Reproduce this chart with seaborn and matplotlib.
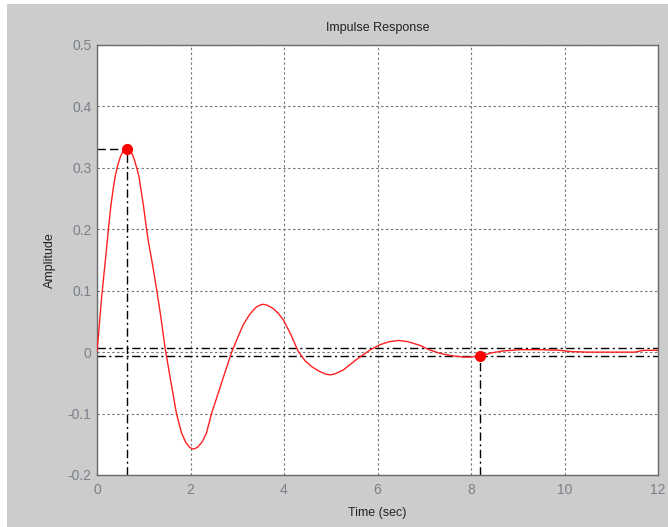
import matplotlib
matplotlib.use("Agg")
import matplotlib.pyplot as plt
from matplotlib.patches import Rectangle
import pandas as pd
import seaborn as sns

# Impulse response samples (time in seconds, amplitude)
time_s = [0.0, 0.05, 0.1, 0.15, 0.2, 0.25, 0.3, 0.35, 0.4, 0.45, 0.5, 0.55,
          0.6, 0.65, 0.7, 0.75, 0.8, 0.85, 0.9, 0.95, 1.0, 1.06, 1.1, 1.2,
          1.28, 1.37, 1.45, 1.55, 1.63, 1.7, 1.81, 1.9, 1.98, 2.06, 2.15,
          2.25, 2.34, 2.45, 2.6, 2.75, 2.88, 3.0, 3.13, 3.27, 3.4, 3.5, 3.56,
          3.65, 3.77, 3.88, 3.99, 4.15, 4.3, 4.45, 4.6, 4.75, 4.9, 5.0, 5.1,
          5.27, 5.4, 5.55, 5.7, 5.85, 6.05, 6.25, 6.45, 6.65, 6.91, 7.1,
          7.34, 7.6, 7.84, 8.0, 8.2, 8.45, 8.69, 9.05, 9.5, 9.9, 10.12, 10.5,
          11.5, 11.7, 12.0]
amplitude = [0.0, 0.045, 0.09, 0.128, 0.165, 0.205, 0.24, 0.268, 0.29, 0.306,
             0.318, 0.326, 0.330, 0.331, 0.329, 0.323, 0.313, 0.300, 0.285,
             0.260, 0.235, 0.200, 0.180, 0.137, 0.100, 0.055, 0.010, -0.035,
             -0.070, -0.100, -0.132, -0.147, -0.155, -0.158, -0.155, -0.146,
             -0.132, -0.100, -0.065, -0.030, 0.0, 0.022, 0.045, 0.062, 0.073,
             0.077, 0.078, 0.076, 0.071, 0.063, 0.052, 0.028, 0.002, -0.014,
             -0.024, -0.031, -0.036, -0.037, -0.035, -0.029, -0.021, -0.012,
             -0.004, 0.004, 0.012, 0.017, 0.019, 0.017, 0.011, 0.004, -0.002,
             -0.006, -0.008, -0.008, -0.006, -0.001, 0.002, 0.004, 0.004,
             0.003, 0.001, 0.0, 0.0, 0.003, 0.003]

# Characteristic points
peak_time, peak_amp = 0.65, 0.331
settle_time, settle_amp = 8.2, -0.006
settle_band = 0.0066

x_ticks = [0, 2, 4, 6, 8, 10, 12]
y_ticks = [-0.2, -0.1, 0, 0.1, 0.2, 0.3, 0.4, 0.5]
y_tick_labels = ["-0.2", "-0.1", "0", "0.1", "0.2", "0.3", "0.4", "0.5"]

sns.set_theme(style="white")
plt.rcParams["font.family"] = ["Liberation Sans", "DejaVu Sans"]

fig = plt.figure(figsize=(6.68, 5.27), dpi=100, facecolor="white")
fig.patches.append(Rectangle((7 / 668, 0), 1, 1 - 4 / 527,
                             transform=fig.transFigure,
                             facecolor="#cccccc", edgecolor="none", zorder=-5))
ax = fig.add_axes([97 / 668, 52 / 527, 561 / 668, 430 / 527])
ax.set_facecolor("white")

df = pd.DataFrame({"Time (sec)": time_s, "Amplitude": amplitude})

xmin, xmax = 0, 12
ymin, ymax = -0.2, 0.5

# settling band
dashdot = (0, (6, 2.5, 1.5, 2.5))
for b in (settle_band, -settle_band):
    ax.axhline(b, color="black", lw=1.0, linestyle=dashdot, zorder=2)

# peak guides
ax.plot([xmin, peak_time], [peak_amp, peak_amp], color="black", lw=1.0,
        linestyle=(0, (6, 3)), zorder=2)
ax.plot([peak_time, peak_time], [ymin, peak_amp], color="black", lw=1.0,
        linestyle=dashdot, zorder=2)
# settling guide
ax.plot([settle_time, settle_time], [ymin, settle_amp], color="black", lw=1.0,
        linestyle=dashdot, zorder=2)

sns.lineplot(data=df, x="Time (sec)", y="Amplitude", ax=ax, color="#ff2020",
             lw=1.0, sort=False, estimator=None, zorder=3)

ax.plot([peak_time], [peak_amp], "o", color="#ff0000", ms=7, zorder=4)
ax.plot([settle_time], [settle_amp], "o", color="#ff0000", ms=7, zorder=4)

ax.set_xlim(xmin, xmax)
ax.set_ylim(ymin, ymax)
ax.set_xticks(x_ticks)
ax.set_xticklabels([str(v) for v in x_ticks])
ax.set_yticks(y_ticks)
ax.set_yticklabels(y_tick_labels)

ax.grid(True, color="#777777", lw=0.8, linestyle=(0, (2.2, 2.2)))
ax.set_axisbelow(True)

for s in ax.spines.values():
    s.set_color("#6a6a6a")
    s.set_linewidth(1.0)

ax.tick_params(axis="both", direction="in", length=0, labelsize=10,
               labelcolor="#7a7f88", pad=4)
ax.tick_params(axis="x", pad=6)

ax.set_title("Impulse Response", fontsize=9, color="#222222", pad=10)
ax.set_xlabel("Time (sec)", fontsize=9, color="#222222", labelpad=7)
ax.set_ylabel("Amplitude", fontsize=9, color="#222222", labelpad=8)

fig.savefig("out.png", dpi=100, facecolor=fig.get_facecolor())
